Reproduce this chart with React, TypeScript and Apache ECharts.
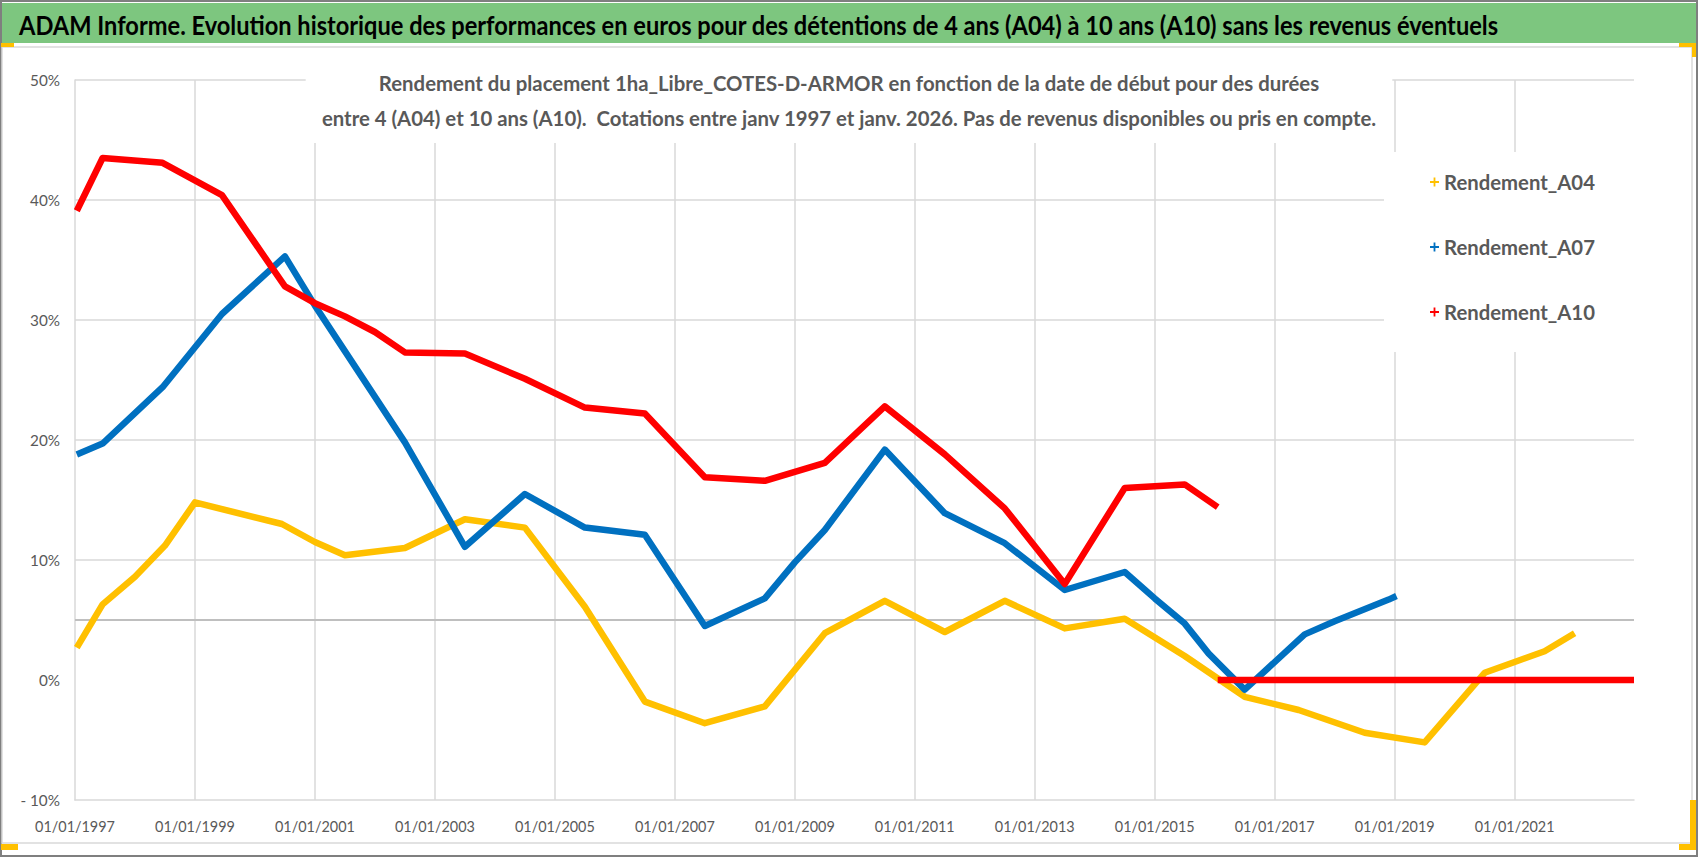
import React, { useEffect, useRef } from "react";
import * as echarts from "echarts";

const FONT = "Lato, 'Open Sans', sans-serif";

const mainTitle =
  "ADAM Informe. Evolution historique des performances en euros pour des détentions de 4 ans (A04) à 10 ans (A10) sans les revenus éventuels";
const chartTitleLine1 =
  "Rendement du placement 1ha_Libre_COTES-D-ARMOR en fonction de la date de début pour des durées";
const chartTitleLine2 =
  "entre 4 (A04) et 10 ans (A10).  Cotations entre janv 1997 et janv. 2026. Pas de revenus disponibles ou pris en compte.";

const seriesNames = ["Rendement_A04", "Rendement_A07", "Rendement_A10"];
const seriesColors = ["#FFC000", "#0070C0", "#FF0000"];

// start date as years elapsed since 01/01/1997, value in %
const a04T = [0.03, 0.46, 1.0, 1.5, 2.0, 3.45, 4.0, 4.5, 5.5, 6.5, 7.5, 8.5, 9.5, 10.5, 11.5, 12.5, 13.5, 14.5, 15.5, 16.5, 17.5, 18.5, 19.5, 20.4, 21.5, 22.5, 23.5, 24.0, 24.5, 25.0];
const a04V = [2.7, 6.3, 8.6, 11.2, 14.8, 13.0, 11.5, 10.4, 11.0, 13.4, 12.7, 6.1, -1.8, -3.6, -2.2, 3.9, 6.6, 4.0, 6.6, 4.3, 5.1, 2.0, -1.4, -2.5, -4.4, -5.2, 0.6, 1.5, 2.4, 3.9];

const a07T = [0.03, 0.46, 1.46, 2.45, 3.5, 4.0, 5.5, 6.5, 7.5, 8.5, 9.5, 10.5, 11.5, 12.0, 12.5, 13.5, 14.5, 15.5, 16.5, 17.5, 18.0, 18.5, 18.9, 19.5, 20.5, 21.0, 21.9, 22.03];
const a07V = [18.8, 19.7, 24.4, 30.5, 35.3, 31.2, 19.8, 11.1, 15.5, 12.7, 12.1, 4.5, 6.8, 9.8, 12.5, 19.2, 13.9, 11.4, 7.5, 9.0, 6.8, 4.7, 2.2, -0.8, 3.8, 4.9, 6.7, 7.0];

const a10T = [0.03, 0.46, 1.46, 2.45, 3.5, 4.0, 4.5, 5.0, 5.5, 6.5, 7.5, 8.5, 9.5, 10.5, 11.5, 12.5, 13.5, 14.5, 15.5, 16.5, 17.5, 18.5, 19.05];
const a10V = [39.1, 43.5, 43.1, 40.4, 32.8, 31.4, 30.3, 29.0, 27.3, 27.2, 25.1, 22.7, 22.2, 16.9, 16.6, 18.1, 22.8, 18.8, 14.3, 8.0, 16.0, 16.3, 14.4];
const a10ZeroT = [19.05, 25.99];
const a10ZeroV = [0, 0];

const xMax = 25.99;
const yGridValues = [10, 20, 30, 40, 50];
const refLineValue = 5;

const plusIcon = "path://M4,0H6V4H10V6H6V10H4V6H0V4H4Z";

function zip(t: number[], v: number[]) {
  return t.map((x, i) => [x, v[i]]);
}

function measure(font: string, text: string) {
  const c = document.createElement("canvas").getContext("2d");
  if (!c) return 0;
  c.font = font;
  return c.measureText(text).width;
}

export default function App() {
  const ref = useRef<HTMLDivElement>(null);
  useEffect(() => {
    if (!ref.current) return;
    const chart = echarts.init(ref.current, null, { renderer: "svg" });

    // fit text widths to the reference layout
    const titleW = measure("bold 27px Lato", mainTitle) || 1600;
    const titleScale = 1480 / titleW;
    const subW = measure("bold 20px Lato", chartTitleLine2) || 1055;
    const subFs = Math.min(22, (20 * 1055) / subW);
    const legW = measure("bold 22px Lato", "Rendement_A04") || 151;
    const legFs = Math.min(24, (22 * 151) / legW);
    const xlW = measure("17px Lato", "01/01/1997") || 80;
    const xlFs = Math.min(18, (17 * 80) / xlW);
    const ylW = measure("17px Lato", "50%") || 30;
    const ylFs = Math.min(18, (17 * 30) / ylW);

    const a10Data: any[] = [...zip(a10T, a10V), [null, null], ...zip(a10ZeroT, a10ZeroV)];
    const option: any = {
      animation: false,
      textStyle: { fontFamily: FONT },
      graphic: [
        { type: "rect", z: -5, shape: { x: 1, y: 1, width: 1696, height: 855 }, style: { fill: "#fff", stroke: "#7f7f7f", lineWidth: 2 } },
        { type: "rect", z: -4, shape: { x: 2, y: 3, width: 1694, height: 40 }, style: { fill: "#7DC67F" } },
        { type: "rect", z: -4, shape: { x: 2, y: 47, width: 1690, height: 796 }, style: { fill: "none", stroke: "#d9d9d9", lineWidth: 1.5 } },
        { type: "rect", z: -3, shape: { x: 1, y: 43, width: 13, height: 4 }, style: { fill: "#FFC000" } },
        { type: "rect", z: -3, shape: { x: 1679, y: 43, width: 17, height: 4 }, style: { fill: "#FFC000" } },
        { type: "rect", z: -3, shape: { x: 1692, y: 43, width: 4, height: 14 }, style: { fill: "#FFC000" } },
        { type: "rect", z: -3, shape: { x: 1, y: 844, width: 17, height: 6 }, style: { fill: "#FFC000" } },
        { type: "rect", z: -3, shape: { x: 1679, y: 844, width: 17, height: 6 }, style: { fill: "#FFC000" } },
        { type: "rect", z: -3, shape: { x: 1690, y: 800, width: 6, height: 50 }, style: { fill: "#FFC000" } },
        {
          type: "text",
          z: 10,
          x: 19,
          y: 24,
          scaleX: titleScale,
          style: {
            text: mainTitle,
            fontSize: 27,
            fontWeight: "bold",
            fontFamily: FONT,
            fill: "#000",
            align: "left",
            verticalAlign: "middle",
          },
        },
      ],
      title: {
        text: chartTitleLine1 + "\n" + chartTitleLine2,
        left: "center",
        top: 59,
        backgroundColor: "#fff",
        padding: [6, 16, 8, 16],
        textStyle: { fontSize: subFs, fontWeight: "bold", color: "#595959", lineHeight: 35, fontFamily: FONT },
      },
      legend: {
        orient: "vertical",
        left: 1384,
        top: 152,
        backgroundColor: "#fff",
        padding: [20, 40, 30, 46],
        itemGap: 45,
        itemWidth: 9,
        itemHeight: 9,
        icon: plusIcon,
        data: seriesNames,
        textStyle: { fontSize: legFs, fontWeight: "bold", color: "#595959", fontFamily: FONT },
      },
      grid: { left: 75, right: 64, top: 80, bottom: 57, containLabel: false },
      xAxis: {
        type: "value",
        min: 0,
        max: xMax,
        interval: 2,
        axisLine: { show: true, onZero: false, lineStyle: { color: "#d9d9d9", width: 1.5 } },
        axisTick: { show: false },
        axisLabel: {
          fontSize: xlFs,
          color: "#595959",
          margin: 19,
          formatter: (v: number) => (Number.isInteger(v) && v % 2 === 0 && v <= 24 ? "01/01/" + (1997 + v) : ""),
        },
        splitLine: { show: true, showMinLine: false, showMaxLine: false, lineStyle: { color: "#d9d9d9", width: 1.5 } },
      },
      yAxis: {
        type: "value",
        min: -10,
        max: 50,
        interval: 10,
        axisLine: { show: true, lineStyle: { color: "#d9d9d9", width: 1.5 } },
        axisTick: { show: false },
        splitLine: { show: false },
        axisLabel: {
          fontSize: ylFs,
          color: "#595959",
          margin: 15,
          formatter: (v: number) => (v < 0 ? "- " + Math.abs(v) + "%" : v + "%"),
        },
      },
      series: [
        {
          name: "grid",
          type: "line",
          data: [],
          z: 1,
          markLine: {
            silent: true,
            symbol: ["none", "none"],
            z: 1,
            label: { show: false },
            data: [
              ...yGridValues.map((v) => ({ yAxis: v, lineStyle: { color: "#d9d9d9", width: 1.5, type: "solid" } })),
              { yAxis: refLineValue, lineStyle: { color: "#bfbfbf", width: 2, type: "solid" } },
            ],
          },
        },
        ...[zip(a04T, a04V), zip(a07T, a07V), a10Data].map((d, i) => ({
          name: seriesNames[i],
          type: "line",
          data: d,
          showSymbol: false,
          connectNulls: false,
          z: 3 + i,
          itemStyle: { color: seriesColors[i] },
          lineStyle: { color: seriesColors[i], width: 6.5, join: "round" },
        })),
      ],
    };
    chart.setOption(option);
    return () => chart.dispose();
  }, []);
  return (
    <div
      ref={ref}
      style={{ position: "fixed", left: 0, top: 0, width: 1698, height: 857, background: "#fff" }}
    />
  );
}
